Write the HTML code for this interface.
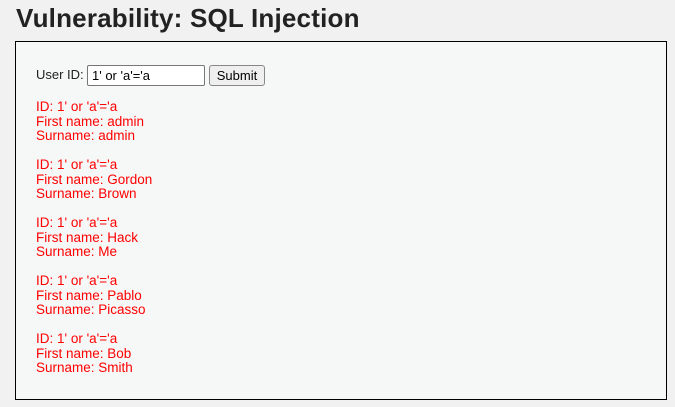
<!DOCTYPE html>
<html><head><style>
body{margin:0;width:675px;height:407px;background:#f1f1f1;font-family:"Liberation Sans",sans-serif;position:relative;overflow:hidden}
h1{position:absolute;left:16px;top:3px;margin:0;font-size:26px;font-weight:bold;color:#222;letter-spacing:0.2px}
.box{position:absolute;left:15px;top:41px;width:650px;height:357px;border:1px solid #000;background:#f6f7f7}
.lbl{position:absolute;left:36px;top:67px;font-size:13px;color:#222}
.inp{position:absolute;left:87px;top:65px;border:1px solid #777;border-radius:2px;background:#fff;font-size:13px;line-height:19px;padding-left:4px;box-sizing:border-box;width:118px;height:21px}
.btn{position:absolute;left:209px;top:65px;width:56px;height:21px;border:1px solid #888;border-radius:3px;background:#efefef;font-size:13px;text-align:center;line-height:19px;box-sizing:border-box;color:#000}
.r{position:absolute;left:36px;color:#f00;font-size:13.5px;line-height:14.5px}
</style></head><body>
<h1>Vulnerability: SQL Injection</h1>
<div class="box"></div>
<div class="lbl">User ID:</div>
<div class="inp">1' or 'a'='a</div>
<div class="btn">Submit</div>
<div class="r" style="top:100px">ID: 1' or 'a'='a<br>First name: admin<br>Surname: admin</div>
<div class="r" style="top:158px">ID: 1' or 'a'='a<br>First name: Gordon<br>Surname: Brown</div>
<div class="r" style="top:216px">ID: 1' or 'a'='a<br>First name: Hack<br>Surname: Me</div>
<div class="r" style="top:274px">ID: 1' or 'a'='a<br>First name: Pablo<br>Surname: Picasso</div>
<div class="r" style="top:332px">ID: 1' or 'a'='a<br>First name: Bob<br>Surname: Smith</div>
</body></html>
